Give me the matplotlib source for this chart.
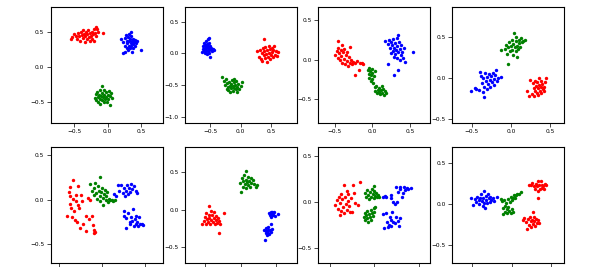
import numpy as np
import matplotlib
matplotlib.use("Agg")
import matplotlib.pyplot as plt

# cluster points, one list per panel and colour
p1_red = [(-0.54,0.40),(-0.53,0.43),(-0.50,0.47),(-0.47,0.44),(-0.46,0.40),(-0.44,0.49),(-0.42,0.45),(-0.41,0.38),
          (-0.40,0.51),(-0.38,0.46),(-0.37,0.42),(-0.36,0.53),(-0.35,0.48),(-0.34,0.36),(-0.33,0.44),(-0.32,0.50),
          (-0.31,0.40),(-0.30,0.47),(-0.29,0.53),(-0.28,0.43),(-0.27,0.37),(-0.26,0.49),(-0.25,0.45),(-0.24,0.51),
          (-0.23,0.41),(-0.22,0.47),(-0.21,0.38),(-0.20,0.54),(-0.19,0.49),(-0.18,0.44),(-0.17,0.58),(-0.16,0.55),
          (-0.15,0.51),(-0.07,0.49)]
p1_blue = [(0.19,0.41),(0.22,0.20),(0.25,0.22),(0.23,0.36),(0.25,0.42),(0.26,0.31),(0.27,0.46),(0.28,0.38),
           (0.28,0.28),(0.29,0.34),(0.30,0.43),(0.30,0.25),(0.31,0.37),(0.32,0.31),(0.32,0.48),(0.33,0.40),
           (0.33,0.27),(0.34,0.35),(0.34,0.51),(0.35,0.44),(0.35,0.30),(0.36,0.22),(0.36,0.38),(0.37,0.33),
           (0.38,0.41),(0.38,0.27),(0.39,0.36),(0.40,0.31),(0.41,0.39),(0.42,0.34),(0.44,0.37),(0.50,0.25)]
p1_green = [(-0.19,-0.44),(-0.18,-0.38),(-0.17,-0.47),(-0.16,-0.35),(-0.15,-0.42),(-0.14,-0.50),(-0.13,-0.39),
            (-0.12,-0.45),(-0.11,-0.33),(-0.11,-0.52),(-0.10,-0.41),(-0.09,-0.47),(-0.08,-0.27),(-0.08,-0.37),
            (-0.07,-0.43),(-0.06,-0.50),(-0.05,-0.32),(-0.05,-0.40),(-0.04,-0.46),(-0.03,-0.36),(-0.02,-0.43),
            (-0.01,-0.49),(0.00,-0.39),(0.01,-0.45),(0.02,-0.34),(0.03,-0.54),(0.04,-0.41),(0.05,-0.37),(0.06,-0.44)]

p2_red = [(0.27,0.04),(0.30,-0.05),(0.32,0.06),(0.34,-0.09),(0.35,0.01),(0.36,-0.12),(0.37,0.08),(0.38,-0.03),
          (0.38,0.23),(0.39,0.03),(0.40,-0.08),(0.41,0.10),(0.42,-0.01),(0.43,-0.13),(0.44,0.05),(0.45,-0.05),
          (0.46,0.12),(0.47,0.00),(0.48,-0.09),(0.49,0.07),(0.50,-0.03),(0.51,0.09),(0.52,0.02),(0.53,-0.06),
          (0.54,0.05),(0.55,0.11),(0.56,-0.02),(0.58,0.04),(0.60,-0.04),(0.62,0.02)]
p2_blue = [(-0.63,0.02),(-0.62,0.07),(-0.61,0.12),(-0.60,0.04),(-0.60,0.16),(-0.59,0.09),(-0.58,0.00),(-0.58,0.13),
           (-0.57,0.06),(-0.57,0.20),(-0.56,0.10),(-0.56,0.03),(-0.55,0.15),(-0.55,-0.01),(-0.54,0.08),(-0.54,0.22),
           (-0.53,0.12),(-0.53,0.04),(-0.52,0.17),(-0.52,0.25),(-0.51,0.07),(-0.51,0.01),(-0.50,0.11),(-0.50,-0.06),
           (-0.49,0.05),(-0.48,0.09),(-0.47,0.03),(-0.46,0.07),(-0.44,0.06)]
p2_green = [(-0.30,-0.37),(-0.27,-0.44),(-0.25,-0.50),(-0.24,-0.41),(-0.23,-0.56),(-0.22,-0.47),(-0.21,-0.53),
            (-0.20,-0.58),(-0.19,-0.45),(-0.18,-0.51),(-0.17,-0.61),(-0.16,-0.48),(-0.15,-0.55),(-0.14,-0.42),
            (-0.13,-0.52),(-0.12,-0.59),(-0.11,-0.46),(-0.10,-0.40),(-0.10,-0.54),(-0.09,-0.50),(-0.08,-0.57),
            (-0.07,-0.44),(-0.06,-0.53),(-0.05,-0.61),(-0.04,-0.48),(-0.02,-0.56),(0.00,-0.51),(0.03,-0.46)]

p3_red = [(-0.49,0.06),(-0.47,0.11),(-0.46,0.02),(-0.45,0.24),(-0.45,0.15),(-0.44,0.08),(-0.43,-0.01),(-0.42,0.12),
          (-0.41,0.04),(-0.40,0.18),(-0.40,-0.04),(-0.39,0.09),(-0.38,0.01),(-0.37,0.13),(-0.36,-0.06),(-0.35,0.06),
          (-0.34,-0.02),(-0.33,0.10),(-0.32,-0.08),(-0.31,0.03),(-0.30,-0.04),(-0.29,0.16),(-0.28,-0.01),(-0.27,-0.06),
          (-0.25,-0.03),(-0.23,-0.05),(-0.23,-0.20),(-0.21,-0.02),(-0.18,-0.13),(-0.17,-0.04),(-0.14,-0.05),(-0.12,-0.06)]
p3_blue = [(0.16,0.24),(0.20,-0.06),(0.21,0.20),(0.22,0.25),(0.23,0.14),(0.24,0.22),(0.25,0.08),(0.26,0.18),
           (0.27,0.26),(0.27,0.11),(0.28,0.03),(0.29,0.15),(0.29,-0.19),(0.30,0.21),(0.30,0.07),(0.31,0.12),
           (0.32,0.27),(0.32,0.02),(0.33,0.17),(0.34,0.31),(0.34,0.09),(0.34,-0.13),(0.35,0.22),(0.36,0.13),
           (0.36,-0.01),(0.37,0.06),(0.38,0.19),(0.39,0.10),(0.40,0.02),(0.41,0.14),(0.43,-0.03),(0.53,0.10)]
p3_green = [(-0.06,-0.13),(-0.05,-0.18),(-0.04,-0.11),(-0.04,-0.23),(-0.03,-0.15),(-0.02,-0.27),(-0.02,-0.20),
            (-0.01,-0.12),(0.00,-0.17),(0.00,-0.25),(0.01,-0.30),(0.02,-0.21),(0.03,-0.14),(0.03,-0.35),(0.04,-0.40),
            (0.05,-0.33),(0.06,-0.43),(0.07,-0.38),(0.08,-0.41),(0.09,-0.36),(0.10,-0.44),(0.11,-0.39),(0.12,-0.34),
            (0.13,-0.42),(0.14,-0.37),(0.15,-0.45),(0.17,-0.40),(0.18,-0.43)]

p4_red = [(0.21,-0.16),(0.23,-0.22),(0.25,-0.02),(0.27,-0.19),(0.28,-0.06),(0.29,-0.12),(0.30,-0.21),(0.31,-0.03),
          (0.31,-0.15),(0.32,-0.09),(0.33,-0.18),(0.34,-0.05),(0.35,-0.12),(0.35,-0.20),(0.36,0.01),(0.36,-0.08),
          (0.37,-0.15),(0.38,-0.03),(0.38,-0.11),(0.39,-0.18),(0.40,-0.07),(0.41,-0.13),(0.42,-0.10),(0.43,-0.16),
          (0.44,-0.05),(0.45,0.00)]
p4_blue = [(-0.51,-0.16),(-0.46,-0.12),(-0.44,-0.13),(-0.41,-0.14),(-0.40,0.08),(-0.38,0.03),(-0.37,-0.06),
           (-0.36,-0.17),(-0.35,0.01),(-0.34,-0.23),(-0.34,-0.10),(-0.33,0.06),(-0.32,-0.03),(-0.31,-0.13),
           (-0.30,0.02),(-0.29,-0.07),(-0.28,0.05),(-0.27,-0.02),(-0.26,-0.11),(-0.25,0.03),(-0.24,-0.05),
           (-0.23,0.07),(-0.22,-0.01),(-0.21,-0.08),(-0.20,0.04),(-0.19,0.10),(-0.18,-0.03),(-0.16,0.01),(-0.13,0.02)]
p4_green = [(-0.13,0.34),(-0.08,0.36),(-0.06,0.41),(-0.05,0.30),(-0.04,0.38),(-0.03,0.17),(-0.02,0.44),(-0.01,0.33),
            (0.00,0.39),(0.01,0.47),(0.02,0.35),(0.03,0.42),(0.03,0.28),(0.04,0.55),(0.05,0.38),(0.06,0.45),
            (0.07,0.33),(0.07,0.51),(0.08,0.26),(0.08,0.40),(0.09,0.36),(0.10,0.47),(0.11,0.43),(0.12,0.38),
            (0.13,0.49),(0.14,0.44),(0.16,0.46),(0.18,0.47)]

p5_red = [(-0.41,-0.18),(-0.39,0.08),(-0.38,0.14),(-0.38,-0.05),(-0.37,0.04),(-0.36,-0.09),(-0.35,-0.20),(-0.34,0.22),
          (-0.34,0.01),(-0.33,-0.13),(-0.32,-0.23),(-0.31,-0.02),(-0.30,0.05),(-0.29,-0.25),(-0.28,0.15),(-0.28,-0.06),
          (-0.27,-0.10),(-0.26,-0.32),(-0.25,0.05),(-0.24,-0.02),(-0.22,-0.27),(-0.19,-0.18),(-0.19,-0.35),(-0.17,0.02),
          (-0.15,-0.22),(-0.14,0.00),(-0.12,-0.19),(-0.11,-0.29),(-0.10,-0.34),(-0.09,-0.38),(-0.08,-0.36)]
p5_blue = [(0.14,0.06),(0.16,0.04),(0.18,0.16),(0.20,0.10),(0.22,0.16),(0.24,0.07),(0.25,0.13),(0.27,0.04),
           (0.28,0.10),(0.29,0.16),(0.30,0.06),(0.31,0.13),(0.33,0.09),(0.34,0.17),(0.35,0.12),(0.37,0.15),
           (0.39,0.10),(0.41,0.07),
           (0.25,-0.13),(0.26,-0.18),(0.28,-0.21),(0.28,-0.32),(0.30,-0.15),(0.32,-0.25),(0.33,-0.28),(0.34,-0.20),
           (0.35,-0.24),(0.36,-0.11),(0.37,-0.30),(0.38,-0.22),(0.39,-0.27),(0.40,-0.18),(0.41,-0.25),(0.42,-0.30),
           (0.43,-0.20),(0.44,-0.27),(0.46,-0.28),(0.48,-0.29)]
p5_green = [(-0.14,0.17),(-0.12,0.10),(-0.10,0.05),(-0.09,0.13),(-0.08,0.19),(-0.07,0.07),(-0.06,0.01),(-0.05,0.15),
            (-0.04,0.10),(-0.03,0.04),(-0.02,0.25),(-0.02,-0.02),(-0.01,0.08),(0.00,0.13),(0.01,0.02),(0.01,-0.06),
            (0.02,0.06),(0.03,0.11),(0.04,-0.01),(0.05,0.04),(0.06,0.08),(0.07,-0.03),(0.08,0.01),(0.09,-0.01),
            (0.11,0.00),(0.13,-0.02),(0.15,-0.01)]

p6_red = [(-0.54,-0.19),(-0.52,-0.15),(-0.50,-0.10),(-0.49,-0.20),(-0.48,-0.05),(-0.47,-0.13),(-0.46,-0.17),
          (-0.45,-0.08),(-0.44,0.05),(-0.44,-0.11),(-0.43,-0.19),(-0.42,-0.02),(-0.41,-0.14),(-0.40,-0.07),
          (-0.39,-0.17),(-0.38,-0.11),(-0.37,-0.04),(-0.36,-0.20),(-0.35,-0.09),(-0.34,-0.14),(-0.33,-0.18),
          (-0.32,-0.12),(-0.30,-0.31),(-0.30,-0.16),(-0.29,-0.20),(-0.23,-0.05)]
p6_blue = [(0.40,-0.05),(0.41,-0.08),(0.42,-0.04),(0.43,-0.10),(0.43,-0.06),(0.44,-0.03),(0.44,-0.08),(0.45,-0.05),
           (0.46,-0.07),(0.47,-0.04),(0.48,-0.09),(0.53,-0.06),
           (0.33,-0.28),(0.34,-0.41),(0.35,-0.25),(0.35,-0.32),(0.36,-0.29),(0.37,-0.35),(0.38,-0.27),(0.38,-0.31),
           (0.39,-0.24),(0.40,-0.33),(0.41,-0.28),(0.42,-0.19),(0.42,-0.30),(0.44,-0.26)]
p6_green = [(-0.01,0.36),(0.00,0.23),(0.02,0.42),(0.03,0.30),(0.04,0.38),(0.05,0.46),(0.06,0.34),(0.07,0.40),
            (0.08,0.52),(0.08,0.29),(0.09,0.37),(0.10,0.44),(0.11,0.33),(0.12,0.39),(0.13,0.31),(0.14,0.42),
            (0.15,0.36),(0.17,0.40),(0.19,0.34),(0.21,0.31),(0.23,0.33)]

p7_red = [(-0.44,-0.03),(-0.42,0.02),(-0.41,-0.07),(-0.40,0.05),(-0.39,-0.14),(-0.38,-0.01),(-0.37,0.09),(-0.37,-0.10),
          (-0.36,0.03),(-0.35,-0.05),(-0.34,0.19),(-0.34,-0.12),(-0.33,0.06),(-0.32,-0.02),(-0.31,0.12),(-0.31,-0.08),
          (-0.30,0.01),(-0.29,0.09),(-0.28,-0.04),(-0.27,-0.11),(-0.26,0.04),(-0.25,-0.11),(-0.24,0.19),(-0.23,0.10),
          (-0.22,-0.01),(-0.18,-0.03),(-0.16,0.22)]
p7_blue = [(0.10,0.06),(0.12,0.07),(0.13,0.05),(0.19,0.08),(0.19,0.04),(0.24,0.16),(0.26,0.11),(0.28,0.14),
           (0.29,0.16),(0.31,0.06),(0.32,0.10),(0.33,0.16),(0.34,0.13),(0.36,0.15),(0.38,0.14),(0.41,0.15),
           (0.21,0.00),(0.23,-0.02),(0.25,0.00),(0.10,-0.13),(0.13,-0.12),(0.14,-0.21),(0.16,-0.25),(0.17,-0.16),
           (0.18,-0.19),(0.19,-0.26),(0.20,-0.11),(0.21,-0.22),(0.23,-0.23),(0.24,-0.16),(0.26,-0.20),(0.27,-0.26),
           (0.28,-0.17),(0.11,-0.28),(0.15,-0.27)]
p7_green = [(-0.10,0.10),(-0.09,0.05),(-0.08,0.13),(-0.07,0.08),(-0.06,0.03),(-0.05,0.11),(-0.04,0.06),(-0.03,0.14),
            (-0.02,0.09),(-0.01,0.04),(0.00,0.12),(0.00,0.17),(0.01,0.07),(0.02,0.10),(0.03,0.05),(0.04,0.08),
            (0.05,0.06),
            (-0.12,-0.16),(-0.11,-0.12),(-0.10,-0.19),(-0.09,-0.14),(-0.08,-0.10),(-0.08,-0.17),(-0.07,-0.21),
            (-0.06,-0.13),(-0.05,-0.16),(-0.04,-0.08),(-0.04,-0.19),(-0.03,-0.12),(-0.02,-0.15),(-0.01,-0.06),
            (0.00,-0.11),(0.01,-0.05)]

p8_red = [(0.22,0.23),(0.24,0.24),(0.26,0.26),(0.28,0.22),(0.30,0.19),(0.31,0.25),(0.32,0.22),(0.33,0.16),
          (0.34,0.08),(0.34,0.29),(0.35,0.23),(0.36,0.19),(0.37,0.29),(0.38,0.24),(0.39,0.20),(0.40,0.22),
          (0.41,0.18),(0.42,0.25),(0.44,0.24),
          (0.14,-0.20),(0.16,-0.17),(0.18,-0.22),(0.20,-0.31),(0.21,-0.18),(0.22,-0.26),(0.23,-0.16),(0.24,-0.21),
          (0.25,-0.28),(0.26,-0.19),(0.27,-0.09),(0.27,-0.24),(0.28,-0.16),(0.29,-0.21),(0.30,-0.27),(0.31,-0.18),
          (0.32,-0.23),(0.33,-0.20),(0.35,-0.23)]
p8_blue = [(-0.52,0.07),(-0.49,-0.01),(-0.47,0.06),(-0.45,0.03),(-0.44,0.09),(-0.42,0.05),(-0.41,0.00),(-0.40,0.08),
           (-0.39,0.12),(-0.38,0.04),(-0.37,-0.02),(-0.36,0.07),(-0.35,0.16),(-0.35,0.02),(-0.34,-0.05),(-0.33,0.10),
           (-0.32,0.05),(-0.31,0.01),(-0.30,0.12),(-0.29,0.07),(-0.28,0.03),(-0.27,0.09),(-0.26,0.05),(-0.24,0.07),
           (-0.22,0.04),(-0.19,0.09)]
p8_green = [(-0.14,0.06),(-0.12,0.04),(-0.11,-0.05),(-0.11,-0.12),(-0.10,0.05),(-0.09,-0.02),(-0.08,-0.09),
            (-0.07,0.02),(-0.06,-0.06),(-0.06,-0.11),(-0.05,0.06),(-0.04,-0.03),(-0.03,-0.08),(-0.02,0.03),
            (-0.01,0.09),(-0.01,-0.11),(0.00,0.05),(0.01,-0.06),(0.02,-0.09),(0.02,0.08),(0.03,0.11),(0.04,0.07),
            (0.05,0.11),(0.07,0.13),(0.09,0.12),(0.12,0.15)]

panels = [
    (p1_red, p1_blue, p1_green),
    (p2_red, p2_blue, p2_green),
    (p3_red, p3_blue, p3_green),
    (p4_red, p4_blue, p4_green),
    (p5_red, p5_blue, p5_green),
    (p6_red, p6_blue, p6_green),
    (p7_red, p7_blue, p7_green),
    (p8_red, p8_blue, p8_green),
]

x_limits = [(-0.846, 0.816), (-0.912, 0.928), (-0.718, 0.759), (-0.748, 0.683),
            (-0.60, 0.706), (-0.78, 0.79), (-0.63, 0.62), (-0.754, 0.669)]
y_limits = [(-0.796, 0.861), (-1.10, 0.732), (-0.804, 0.665), (-0.545, 0.87),
            (-0.71, 0.594), (-0.717, 0.847), (-0.656, 0.60), (-0.718, 0.705)]
x_ticks = [-0.5, 0.0, 0.5]
y_ticks = [[-0.5, 0.0, 0.5], [-1.0, -0.5, 0.0, 0.5], [-0.5, 0.0, 0.5], [-0.5, 0.0, 0.5],
           [-0.5, 0.0, 0.5], [-0.5, 0.0, 0.5], [-0.5, 0.0, 0.5], [-0.5, 0.0, 0.5]]

W, H = 598, 267
fig = plt.figure(figsize=(W / 100, H / 100), dpi=100)

lefts = [50.7, 185, 318, 452.3]
tops = [7, 146.7]
aw, ah = 112, 116

for i, (red, blue, green) in enumerate(panels):
    row, col = divmod(i, 4)
    ax = fig.add_axes([lefts[col] / W, 1 - (tops[row] + ah) / H, aw / W, ah / H])
    for pts, c in [(red, 'r'), (blue, 'b'), (green, 'g')]:
        pts = np.array(pts)
        ax.scatter(pts[:, 0], pts[:, 1], s=6, c=c, linewidths=0)
    ax.set_xlim(x_limits[i])
    ax.set_ylim(y_limits[i])
    ax.set_xticks(x_ticks)
    ax.set_yticks(y_ticks[i])
    ax.tick_params(labelsize=4.2, length=3, width=0.5, pad=1.5)
    for sp in ax.spines.values():
        sp.set_linewidth(0.8)

fig.savefig('out.png', dpi=100)
